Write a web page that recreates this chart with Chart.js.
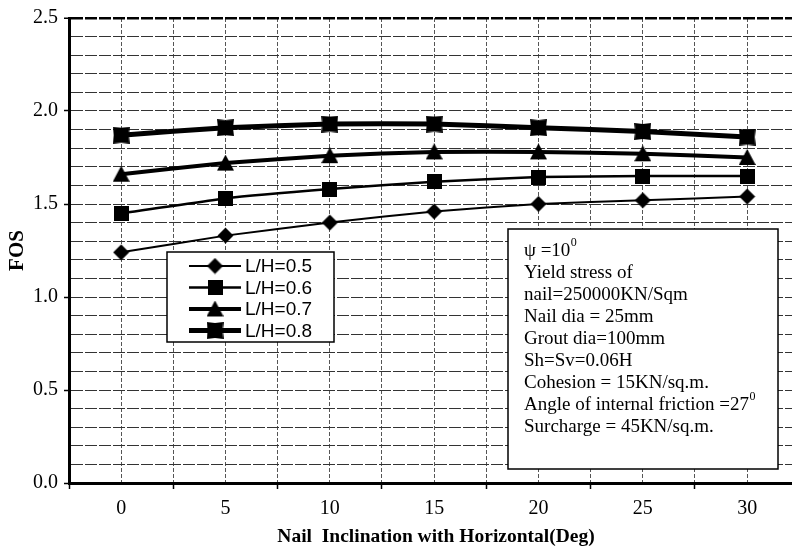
<!DOCTYPE html>
<html><head><meta charset="utf-8">
<script src="https://cdn.jsdelivr.net/npm/chart.js@4.4.0/dist/chart.umd.min.js"></script>
<style>html,body{margin:0;padding:0;background:#fff;overflow:hidden}canvas{display:block}</style>
</head><body>
<canvas id="c" width="792" height="549"></canvas>
<script>
// ---- data ----
const inclinations = [0, 5, 10, 15, 20, 25, 30];
const seriesNames = ['L/H=0.5', 'L/H=0.6', 'L/H=0.7', 'L/H=0.8'];
const fosLH05 = [1.24, 1.33, 1.40, 1.46, 1.50, 1.52, 1.54];
const fosLH06 = [1.45, 1.53, 1.58, 1.62, 1.645, 1.65, 1.65];
const fosLH07 = [1.66, 1.72, 1.76, 1.78, 1.78, 1.77, 1.75];
const fosLH08 = [1.87, 1.91, 1.93, 1.93, 1.91, 1.89, 1.86];
const yMin = 0, yMax = 2.5, yMinorStep = 0.1, yMajorStep = 0.5;
const xHalfStep = 2.5;
const xTitle = 'Nail  Inclination with Horizontal(Deg)';
const yTitle = 'FOS';
const noteLines = [
  ['\u03C8 =10', '0'],
  ['Yield stress of', ''],
  ['nail=250000KN/Sqm', ''],
  ['Nail dia = 25mm', ''],
  ['Grout dia=100mm', ''],
  ['Sh=Sv=0.06H', ''],
  ['Cohesion = 15KN/sq.m.', ''],
  ['Angle of internal friction =27', '0'],
  ['Surcharge = 45KN/sq.m.', '']
];

// ---- marker images ----
function makeMarker(w, h, draw) {
  const c = document.createElement('canvas'); c.width = w; c.height = h;
  const g = c.getContext('2d'); g.fillStyle = '#000'; draw(g, w, h); return c;
}
const mDiamond = makeMarker(17, 17, g => { g.beginPath(); g.moveTo(8.5, 0.5); g.lineTo(16.5, 8.5); g.lineTo(8.5, 16.5); g.lineTo(0.5, 8.5); g.closePath(); g.fill(); });
const mSquare = makeMarker(15, 15, g => g.fillRect(0, 0, 15, 15));
const mTriangle = makeMarker(17, 17, g => { g.beginPath(); g.moveTo(8.5, 0); g.lineTo(17, 16); g.lineTo(0, 16); g.closePath(); g.fill(); });
const mCross = makeMarker(17, 17, g => { g.beginPath(); g.moveTo(0, 0); g.lineTo(8.5, 1); g.lineTo(17, 0); g.lineTo(16, 8.5); g.lineTo(17, 17); g.lineTo(8.5, 16); g.lineTo(0, 17); g.lineTo(1, 8.5); g.closePath(); g.fill(); });

const seriesValues = [fosLH05, fosLH06, fosLH07, fosLH08];
const seriesMarkers = [mDiamond, mSquare, mTriangle, mCross];
const seriesWidths = [2, 2.5, 4, 5];

const datasets = seriesValues.map((vals, i) => ({
  label: seriesNames[i],
  data: inclinations.map((x, k) => ({ x: x, y: vals[k] })),
  borderColor: '#000',
  backgroundColor: '#000',
  borderWidth: seriesWidths[i],
  pointStyle: seriesMarkers[i],
  pointRadius: 8,
  tension: 0.15,
  fill: false
}));

const isMult = (v, s) => Math.abs(v / s - Math.round(v / s)) < 1e-6;
const serif = '"Liberation Serif", "Times New Roman", serif';
const TRANSPARENT = 'rgba(0,0,0,0)';

const overlayPlugin = {
  id: 'overlay',
  afterDatasetsDraw(chart) {
    const ctx = chart.ctx;
    ctx.save();
    // legend box
    ctx.fillStyle = '#fff';
    ctx.fillRect(167, 252, 167, 90);
    ctx.strokeStyle = '#000'; ctx.lineWidth = 1.5;
    ctx.strokeRect(167, 252, 167, 90);
    ctx.font = '19px "Liberation Sans", Arial, sans-serif';
    ctx.textBaseline = 'middle';
    ctx.fillStyle = '#000';
    seriesNames.forEach((name, i) => {
      const y = 266 + i * 21.5;
      ctx.beginPath(); ctx.lineWidth = seriesWidths[i];
      ctx.moveTo(189, y); ctx.lineTo(241, y); ctx.stroke();
      const m = seriesMarkers[i];
      ctx.drawImage(m, 215 - m.width / 2, y - m.height / 2);
      ctx.fillText(name, 245, y + 1);
    });
    // note box
    ctx.fillStyle = '#fff';
    ctx.fillRect(508, 229, 270, 240);
    ctx.lineWidth = 1.5;
    ctx.strokeRect(508, 229, 270, 240);
    ctx.fillStyle = '#000';
    noteLines.forEach((ln, i) => {
      const y = 251 + i * 22;
      ctx.font = '19px ' + serif;
      ctx.fillText(ln[0], 524, y);
      if (ln[1]) {
        const w = ctx.measureText(ln[0]).width;
        ctx.font = '12px ' + serif;
        ctx.fillText(ln[1], 524 + w + 0.5, y - 8);
      }
    });
    // x axis title
    ctx.font = 'bold 19.5px ' + serif;
    ctx.textAlign = 'center';
    ctx.fillText(xTitle, 436, 537);
    ctx.restore();
  }
};

new Chart(document.getElementById('c'), {
  type: 'line',
  data: { datasets: datasets },
  plugins: [overlayPlugin],
  options: {
    responsive: false,
    animation: false,
    layout: { autoPadding: false, padding: { left: 0, right: 0, top: 18, bottom: 0 } },
    plugins: { legend: { display: false }, tooltip: { enabled: false } },
    scales: {
      x: {
        type: 'linear',
        min: inclinations[0] - xHalfStep,
        max: 32.15,
        afterBuildTicks: s => {
          const t = [];
          inclinations.forEach(v => { t.push({ value: v - xHalfStep }); t.push({ value: v }); });
          s.ticks = t;
        },
        afterFit: s => { s.height = 66; s.paddingLeft = 0; s.paddingRight = 0; },
        ticks: {
          autoSkip: false, maxRotation: 0, padding: 8, color: '#000',
          font: { family: serif, size: 20 },
          callback: v => isMult(v, 5) ? String(Math.round(v)) : ''
        },
        grid: {
          color: c => (c.tick && isMult(c.tick.value, xHalfStep)) ? '#555' : TRANSPARENT,
          lineWidth: 1,
          tickLength: 6,
          tickWidth: 1.5,
          tickColor: c => (c.tick && !isMult(c.tick.value, 5)) ? '#000' : TRANSPARENT
        },
        border: { display: true, color: '#000', width: 3, dash: [4, 2] },
        title: { display: false }
      },
      y: {
        min: yMin, max: yMax,
        afterFit: s => { s.width = 69; s.paddingTop = 0; s.paddingBottom = 0; },
        ticks: {
          stepSize: yMinorStep, autoSkip: false, padding: 6, color: '#000',
          font: { family: serif, size: 20 },
          callback: v => isMult(v, yMajorStep) ? v.toFixed(1) : ''
        },
        grid: {
          color: c => (c.tick && Math.abs(c.tick.value - yMax) < 1e-6) ? '#000' : '#333',
          lineWidth: c => (c.tick && Math.abs(c.tick.value - yMax) < 1e-6) ? 2.5 : 1,
          tickLength: 5,
          tickWidth: 1.5,
          tickColor: c => (c.tick && isMult(c.tick.value, yMajorStep)) ? '#000' : TRANSPARENT
        },
        border: { display: true, color: '#000', width: 3, dash: [12, 2] },
        title: {
          display: true, text: yTitle, color: '#000',
          font: { family: serif, size: 21, weight: 'bold' },
          padding: { top: 5, bottom: 0 }
        }
      }
    }
  }
});
</script>
</body></html>
